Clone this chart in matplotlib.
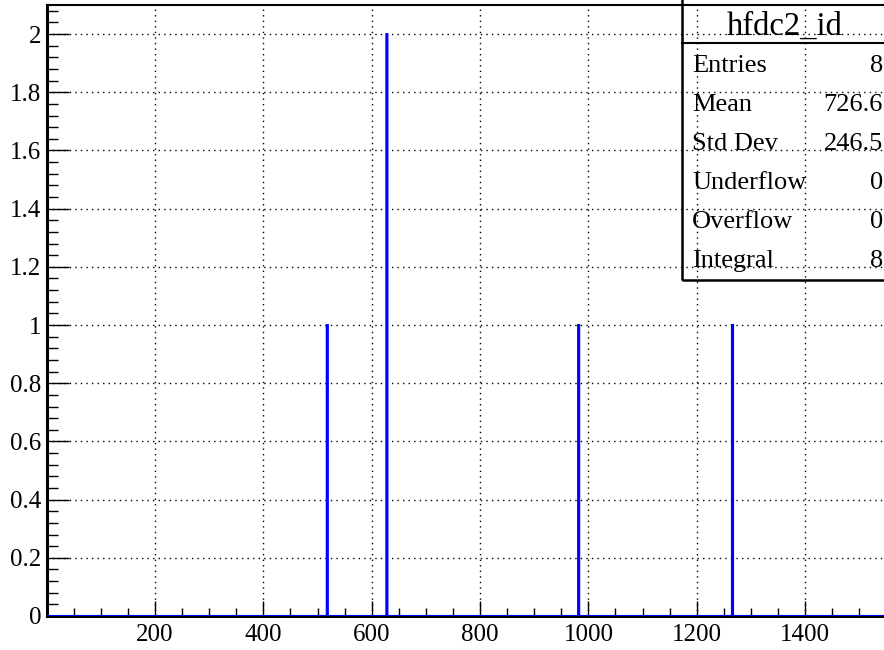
import numpy as np
import matplotlib.pyplot as plt
from matplotlib.patches import Rectangle
from matplotlib.ticker import MultipleLocator

# Histogram content (bin centres and counts)
peak_x = [518, 628, 981, 1266]
peak_counts = [1, 2, 1, 1]
bin_width = 2

stats_title = "hfdc2_id"
stats_names = ["Entries", "Mean", "Std Dev", "Underflow", "Overflow", "Integral"]
stats_values = ["8", "726.6", "246.5", "0", "0", "8"]

plt.rcParams['font.family'] = ['Liberation Serif', 'DejaVu Serif']

W, H = 884, 650
px_per_unit = 0.5417
ax_left = 46.7
extra = 0.02

fig = plt.figure(figsize=(W / 100, H / 100), dpi=100)
ax = fig.add_axes([ax_left / W, 1 - 616 / H, (W - ax_left) / W + extra, 611 / H])

# Fill the histogram from the peaks
samples = np.repeat(peak_x, peak_counts)
edges = np.arange(-bin_width / 2, 1600, bin_width)
counts, edges = np.histogram(samples, bins=edges)
ax.stairs(counts, edges, color='#0000ff', linewidth=1.5, zorder=3)

ax.set_xlim(0, (W - ax_left) / px_per_unit + extra * W / px_per_unit)
ax.set_ylim(0, 2.1)

# ROOT-like ticks
ax.xaxis.set_major_locator(MultipleLocator(200))
ax.xaxis.set_minor_locator(MultipleLocator(50))
ax.yaxis.set_major_locator(MultipleLocator(0.2))
ax.yaxis.set_minor_locator(MultipleLocator(0.04))
ax.tick_params(axis='x', which='major', direction='in', length=11, width=1, labelsize=18, pad=6)
ax.tick_params(axis='x', which='minor', direction='in', length=5.5, width=1)
ax.tick_params(axis='y', which='major', direction='in', length=16, width=1, labelsize=18, pad=4)
ax.tick_params(axis='y', which='minor', direction='in', length=8, width=1)
ax.xaxis.set_major_formatter(plt.FuncFormatter(lambda v, p: "" if v == 0 else f"{v:g}"))
ax.yaxis.set_major_formatter(plt.FuncFormatter(lambda v, p: f"{v:g}"))

ax.grid(True, which='major', color='black', linestyle=(0, (1, 3)), linewidth=1)
for s in ['left', 'bottom']:
    ax.spines[s].set_linewidth(2.2)
ax.spines['top'].set_linewidth(1.5)
ax.spines['right'].set_visible(False)

# Stats box (top edge runs off the canvas)
box_left = 682 / W
box_bottom = 1 - 280 / H
fig.patches.append(Rectangle((box_left, box_bottom), 0.3, 1.0, transform=fig.transFigure,
                             fill=False, edgecolor='black', linewidth=1.8))
fig.add_artist(plt.Line2D([box_left, 1.0], [1 - 43 / H] * 2, transform=fig.transFigure,
                          color='black', linewidth=1.5))
fig.text(785 / W, 1 - 35 / H, stats_title, fontsize=23.5, ha='center', va='baseline')
for i, (name, val) in enumerate(zip(stats_names, stats_values)):
    y = 1 - (66 + i * 39) / H
    fig.text(692 / W, y, name, fontsize=19, ha='left', va='center')
    fig.text(883 / W, y, val, fontsize=19, ha='right', va='center')

fig.savefig('out.png', dpi=100)
